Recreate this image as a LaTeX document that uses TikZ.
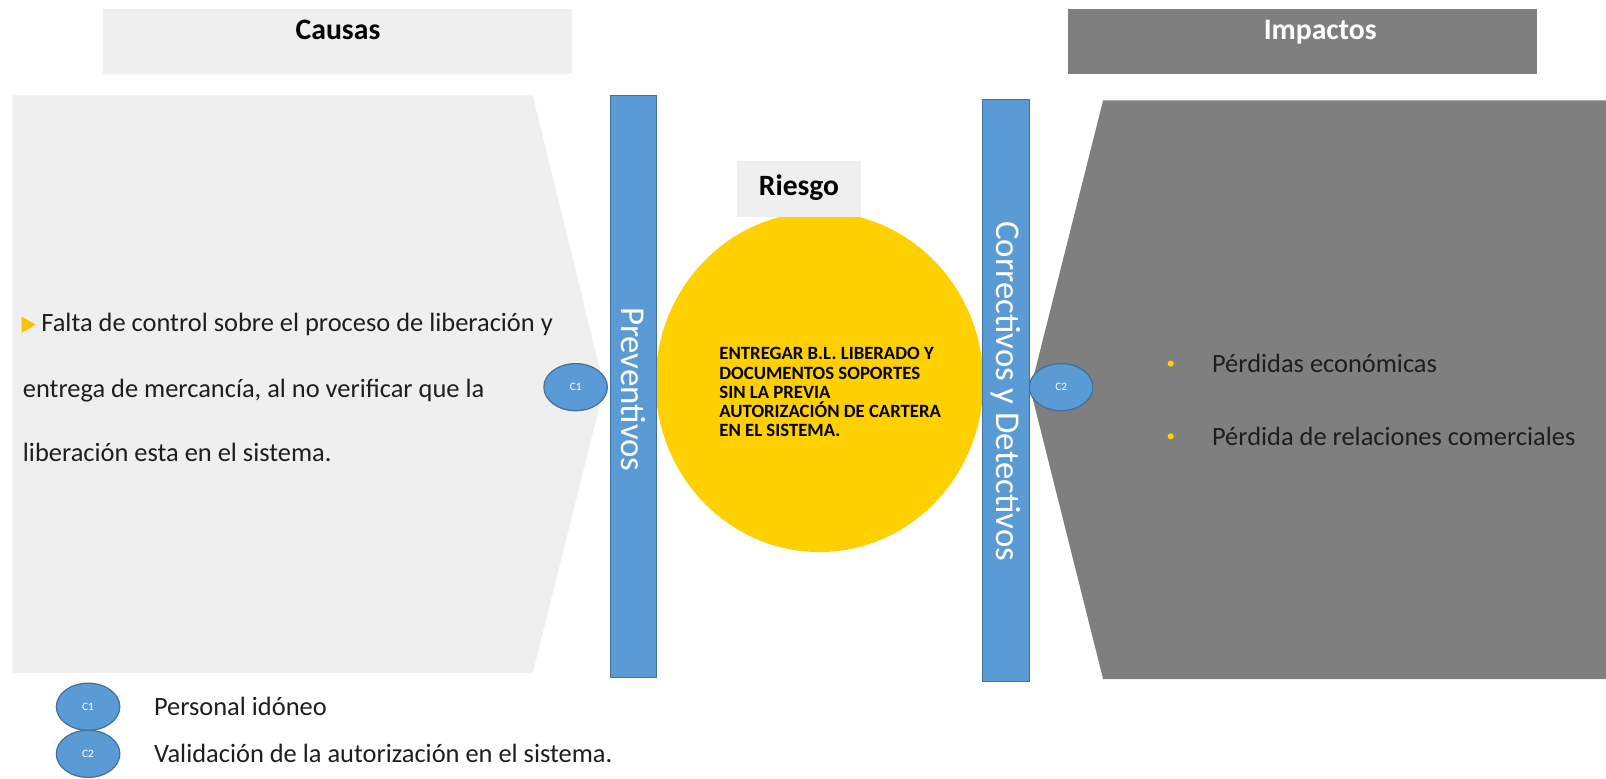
\documentclass[tikz,border=0pt]{standalone}
\usepackage{fontspec}
\setmainfont{Carlito}
\usetikzlibrary{shapes.geometric}
\definecolor{lgray}{HTML}{EFEFEF}
\definecolor{dgray}{HTML}{7F7F7F}
\definecolor{cblue}{HTML}{5B9BD5}
\definecolor{cblueb}{HTML}{41719C}
\definecolor{ryellow}{HTML}{FFD000}
\definecolor{byellow}{HTML}{FFC000}
\definecolor{txt}{HTML}{1E1E1E}
\tikzset{
  header/.style={minimum width=229pt, minimum height=32pt, inner sep=0pt},
  htext/.style={anchor=base, inner sep=0pt, font=\fontsize{14.5}{16}\selectfont\bfseries},
  bar/.style={fill=cblue, draw=cblueb, line width=0.4pt},
  vtext/.style={rotate=-90, text=white, font=\fontsize{17}{19}\selectfont},
  ctrl/.style={ellipse, fill=cblue, draw=cblueb, line width=0.6pt, minimum width=31pt, minimum height=23pt, inner sep=0pt, text=white, font=\fontsize{5.5}{6}\selectfont},
  body/.style={anchor=west, inner sep=0pt, text=txt, font=\fontsize{12.9}{14}\selectfont},
  dotb/.style={circle, fill=ryellow, inner sep=0pt, minimum size=3pt}
}
\begin{document}
\begin{tikzpicture}[x=0.5pt,y=-0.5pt]
\useasboundingbox[fill=white] (0,0) rectangle (1568,760);
% headers
\node[header, fill=lgray, anchor=north west] (causas) at (100,8) {};
\node[htext] (causast) at (330,39) {Causas};
\node[header, fill=dgray, anchor=north west] (impactos) at (1042,8) {};
\node[htext, text=white] (impactost) at (1289,39) {Impactos};
% left pentagon
\fill[lgray] (12,93) coordinate (lp1) -- (520,93) coordinate (lp2) -- (590,378) coordinate (lp3) -- (520,657) coordinate (lp4) -- (12,657) coordinate (lp5) -- cycle;
% right pentagon
\fill[dgray] (1077,98) coordinate (rp1) -- (1568,98) coordinate (rp2) -- (1568,663) coordinate (rp3) -- (1077,663) coordinate (rp4) -- (1006,380) coordinate (rp5) -- cycle;
% yellow circle
\fill[ryellow] (800,373) ellipse [x radius=160, y radius=166];
\node[anchor=north west, align=left, inner sep=0pt, text=black, font=\fontsize{9.15}{9.4}\selectfont\bfseries] (riesgotxt) at (702,339) {ENTREGAR B.L. LIBERADO Y\\DOCUMENTOS SOPORTES\\SIN LA PREVIA\\AUTORIZACIÓN DE CARTERA\\EN EL SISTEMA.};
% riesgo label
\node[fill=lgray, minimum width=60.5pt, minimum height=27.5pt, inner sep=0pt] (riesgo) at (780.5,184.5) {};
\node[anchor=base, inner sep=0pt, font=\fontsize{14.4}{16}\selectfont\bfseries] (riesgot) at (780,191) {Riesgo};
% bars
\draw[bar] (596,93) rectangle (641,661);
\node[vtext] (prev) at (618.5,380) {Preventivos};
\draw[bar] (959,97) rectangle (1005,665);
\node[vtext] (corr) at (982,382) {Correctivos y Detectivos};
% control circles
\node[ctrl] (c1) at (562,378) {C1};
\node[ctrl] (c2) at (1036,378) {C2};
% left text
\fill[byellow] (21,309) -- (35,317) -- (21,325) -- cycle;
\node[body] (t1) at (40,317) {Falta de control sobre el proceso de liberación y};
\node[body] (t2) at (22,381) {entrega de mercancía, al no verificar que la};
\node[body] (t3) at (22,442) {liberación esta en el sistema.};
% impacts
\node[dotb] (b1) at (1143,355) {};
\node[body] (i1) at (1183,355) {Pérdidas económicas};
\node[dotb] (b2) at (1143,426) {};
\node[body] (i2) at (1183,426) {Pérdida de relaciones comerciales};
% legend
\node[ctrl] (l1) at (86,690) {C1};
\node[body] (lt1) at (150,690) {Personal idóneo};
\node[ctrl] (l2) at (86,736) {C2};
\node[body] (lt2) at (150,736) {Validación de la autorización en el sistema.};
\end{tikzpicture}
\end{document}
